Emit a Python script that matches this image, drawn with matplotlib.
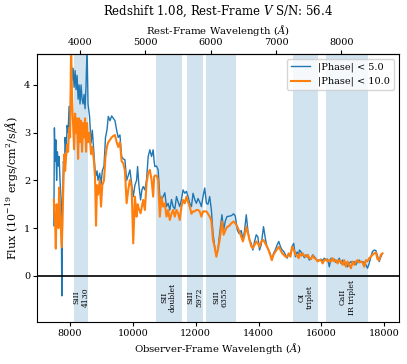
import matplotlib
matplotlib.use("Agg")
import matplotlib.pyplot as plt
import numpy as np

plt.rcParams["font.family"] = "DejaVu Serif"
plt.rcParams["mathtext.fontset"] = "dejavuserif"

redshift = 1.08
snr = 56.4

# observer-frame wavelength (A) and flux (1e-19 ergs/cm2/s/A)
wave = [
    7483, 7500, 7524, 7545, 7570, 7596, 7628, 7650, 7682, 7714, 7736, 7759, 7787, 7819, 7841,
    7873, 7905, 7936, 7968, 8000, 8032, 8063, 8095, 8127, 8159, 8190, 8222, 8254, 8286, 8317,
    8349, 8381, 8413, 8444, 8476, 8508, 8540, 8571, 8619, 8667, 8708, 8752, 8794, 8825, 8857,
    8889, 8943, 8984, 9025, 9079, 9127, 9175, 9216, 9270, 9324, 9375, 9429, 9483, 9533, 9587,
    9641, 9692, 9746, 9800, 9851, 9905, 9959, 10010, 10064, 10117, 10149, 10190, 10244, 10286,
    10327, 10381, 10435, 10486, 10540, 10594, 10645, 10676, 10699, 10752, 10803, 10857, 10911,
    10962, 11016, 11070, 11121, 11175, 11229, 11280, 11334, 11388, 11439, 11492, 11546, 11597,
    11651, 11705, 11756, 11810, 11864, 11915, 11969, 12022, 12073, 12127, 12181, 12232, 12286,
    12340, 12391, 12445, 12499, 12550, 12604, 12658, 12708, 12762, 12835, 12889, 12943, 12994,
    13070, 13134, 13207, 13261, 13324, 13375, 13451, 13502, 13556, 13610, 13661, 13715, 13769,
    13820, 13874, 13927, 13978, 14032, 14086, 14159, 14213, 14264, 14318, 14372, 14423, 14477,
    14531, 14594, 14645, 14699, 14753, 14804, 14858, 14912, 14962, 15016, 15070, 15121, 15175,
    15229, 15280, 15302, 15356, 15407, 15461, 15515, 15569, 15620, 15674, 15727, 15779, 15832,
    15883, 15937, 15991, 16042, 16096, 16150, 16201, 16255, 16309, 16359, 16413, 16467, 16518,
    16572, 16626, 16677, 16731, 16785, 16836, 16890, 16944, 16994, 17048, 17102, 17153, 17207,
    17261, 17312, 17366, 17420, 17470, 17524, 17578, 17629, 17683, 17737, 17788, 17842, 17896,
    17946,
]
flux_phase5 = [
    1.05, 3.10, 2.40, 2.85, 2.00, 2.60, 2.30, 2.50, 1.95, 1.60, -0.42, 1.50, 2.40, 2.20, 2.90,
    2.60, 3.15, 3.00, 3.55, 3.00, 4.50, 4.10, 4.35, 3.95, 4.30, 3.90, 4.20, 3.70, 4.00, 3.60,
    4.00, 3.70, 3.60, 3.80, 3.50, 4.00, 4.80, 3.60, 3.34, 2.78, 3.05, 2.64, 2.22, 2.10, 2.20,
    2.00, 2.15, 1.90, 2.20, 2.30, 2.90, 3.06, 3.34, 3.25, 3.35, 3.30, 3.25, 3.05, 2.90, 2.95,
    2.50, 2.45, 2.43, 2.00, 2.10, 2.22, 1.94, 1.66, 1.90, 2.00, 2.29, 1.90, 1.59, 1.80,
    1.87, 1.80, 2.01, 2.50, 2.64, 2.50, 2.64, 2.40, 2.29, 2.30, 2.22, 1.66, 1.59,
    1.66, 1.74, 1.45, 1.52, 1.38, 1.60, 1.45, 1.40, 1.66, 1.55, 1.45, 1.60, 1.80,
    1.73, 1.77, 1.66, 1.52, 1.45, 1.73, 1.60, 1.52, 1.62, 1.55, 1.45, 1.66, 1.84,
    1.52, 1.50, 1.66, 1.38, 0.89, 0.61, 0.44, 0.55, 0.89, 1.28, 0.96, 1.15, 1.24,
    1.25, 1.26, 1.30, 1.25, 0.96, 0.89, 0.95, 0.75, 0.95, 1.28, 0.95, 0.75, 0.68,
    0.54, 0.72, 0.86, 0.82, 0.54, 0.65, 1.03, 0.80, 0.62, 0.54, 0.47, 0.33, 0.47,
    0.54, 0.65, 0.72, 0.61, 0.54, 0.51, 0.44, 0.37, 0.47, 0.44, 0.61, 0.68, 0.40,
    0.50, 0.44, 0.54, 0.50, 0.44, 0.38, 0.44, 0.40, 0.33, 0.37, 0.44, 0.40, 0.35,
    0.32, 0.33, 0.35, 0.32, 0.37, 0.33, 0.35, 0.19, 0.37, 0.32, 0.35, 0.28, 0.30,
    0.37, 0.26, 0.33, 0.23, 0.28, 0.19, 0.26, 0.30, 0.25, 0.30, 0.23, 0.30, 0.33,
    0.28, 0.30, 0.28, 0.23, 0.16, 0.26, 0.40, 0.51, 0.54, 0.53, 0.42, 0.30, 0.40,
    0.47,
]
flux_phase10 = [
    1.60, 1.30, 1.10, 0.57, 1.50, 1.30, 1.00, 1.85, 1.30, 0.90, 0.60, 1.20, 1.94, 2.55, 2.20,
    2.50, 2.75, 2.60, 3.10, 2.90, 4.80, 3.70, 3.20, 2.65, 3.40, 3.00, 3.30, 2.45, 3.30, 2.80,
    3.25, 2.60, 3.20, 2.90, 3.30, 2.60, 3.20, 2.80, 3.00, 2.55, 2.70, 2.45, 2.08, 1.05, 1.90,
    1.70, 2.00, 1.45, 1.90, 2.00, 2.50, 2.71, 2.80, 2.85, 2.90, 2.93, 2.95, 2.80, 2.70, 2.80,
    2.40, 2.36, 2.20, 1.52, 1.80, 2.01, 1.87, 0.68, 1.66, 1.24, 1.50, 1.40, 1.31, 1.45,
    1.59, 1.38, 1.94, 2.15, 2.22, 2.01, 1.66, 2.08, 2.10, 2.10, 2.01, 1.24, 1.66,
    1.45, 1.52, 1.24, 1.38, 1.17, 1.30, 1.38, 1.24, 1.38, 1.31, 1.17, 1.45, 1.59,
    1.52, 1.66, 1.55, 1.45, 1.30, 1.35, 1.35, 1.38, 1.38, 1.35, 1.24, 1.35, 1.35,
    1.35, 1.30, 1.24, 1.15, 0.75, 0.60, 0.40, 0.55, 0.75, 1.14, 0.86, 0.95, 1.02,
    1.05, 1.10, 1.14, 1.10, 1.03, 0.95, 0.82, 0.72, 0.85, 1.03, 0.90, 0.75, 0.62,
    0.58, 0.65, 0.72, 0.68, 0.61, 0.72, 0.75, 0.68, 0.62, 0.54, 0.44, 0.33, 0.44,
    0.50, 0.56, 0.61, 0.54, 0.47, 0.44, 0.40, 0.40, 0.47, 0.40, 0.61, 0.54, 0.45,
    0.42, 0.37, 0.47, 0.42, 0.47, 0.42, 0.40, 0.44, 0.37, 0.35, 0.42, 0.37, 0.35,
    0.30, 0.33, 0.33, 0.26, 0.33, 0.35, 0.30, 0.33, 0.30, 0.37, 0.30, 0.33, 0.26,
    0.33, 0.30, 0.23, 0.33, 0.19, 0.30, 0.23, 0.16, 0.30, 0.23, 0.30, 0.33, 0.28,
    0.30, 0.28, 0.19, 0.33, 0.30, 0.37, 0.40, 0.44, 0.47, 0.49, 0.35, 0.33, 0.44,
    0.47,
]

# line regions, observer frame (A)
band_lo = [8127, 10730, 11714, 12317, 15111, 16159]
band_hi = [8571, 11556, 12222, 13270, 15905, 17492]
band_labels = ["SiII\n4130", "SII\ndoublet", "SiII\n5972", "SiII\n6355", "OI\ntriplet", "CaII\nIR triplet"]
rest_ticks = [4000, 5000, 6000, 7000, 8000]

fig = plt.figure(figsize=(4.07, 3.64), dpi=100)
ax = fig.add_axes([0.092, 0.115, 0.888, 0.737])

for lo, hi, lab in zip(band_lo, band_hi, band_labels):
    ax.axvspan(lo, hi, color="C0", alpha=0.2, lw=0)
    ax.text((lo + hi) / 2, -0.45, lab, rotation=90, ha="center", va="center",
            fontsize=5.5, linespacing=1.1)

ax.plot(wave, flux_phase5, color="C0", lw=1.0, label="|Phase| < 5.0")
ax.plot(wave, flux_phase10, color="C1", lw=1.5, label="|Phase| < 10.0")
ax.axhline(0, color="k", lw=1.2)

ax.set_ylim(-0.97, 4.65)
ax.margins(x=0.05)
ax.set_xlabel("Observer-Frame Wavelength ($\\AA$)", fontsize=7.3, labelpad=2)
ax.set_ylabel("Flux ($10^{-19}$ ergs/cm$^2$/s/$\\AA$)", fontsize=8, labelpad=3)
ax.tick_params(labelsize=7, length=3, pad=2)
ax.legend(loc="upper right", fontsize=7, handlelength=2.0)

top = ax.secondary_xaxis("top", functions=(lambda x: x / (1 + redshift),
                                            lambda x: x * (1 + redshift)))
top.set_xticks(rest_ticks)
top.set_xlabel("Rest-Frame Wavelength ($\\AA$)", fontsize=7.3, labelpad=3)
top.tick_params(labelsize=7, length=3, pad=2)

ax.set_title("Redshift %.2f, Rest-Frame $V$ S/N: %.1f" % (redshift, snr), fontsize=8.5, pad=6)

fig.savefig("out.png", dpi=100)
